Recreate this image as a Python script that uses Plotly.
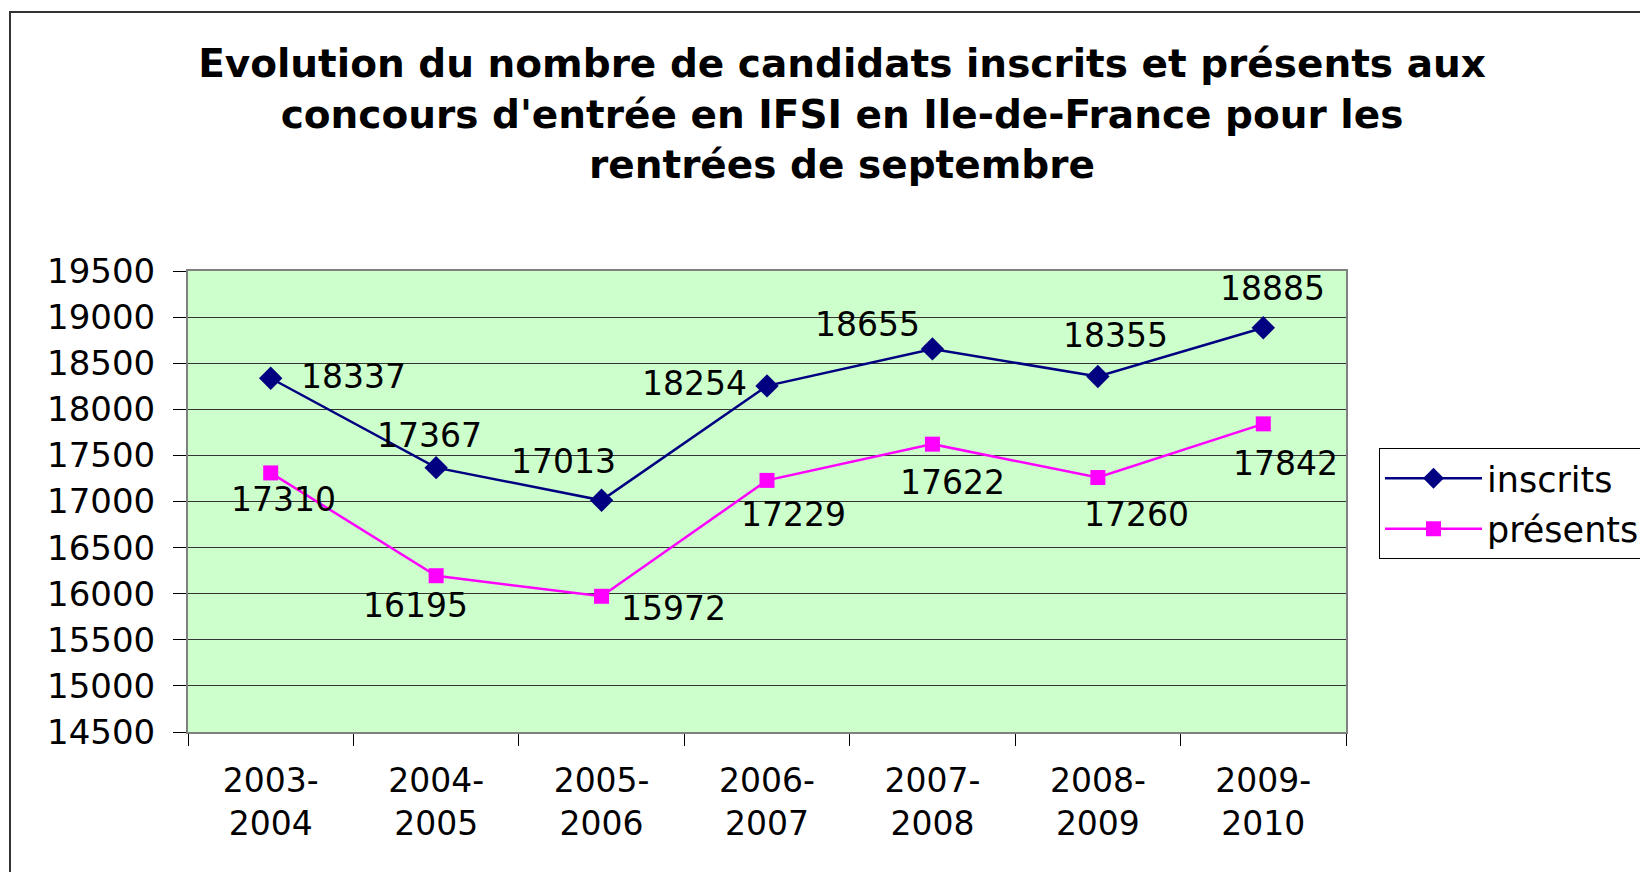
import plotly.graph_objects as go

categories = ["2003-<br>2004", "2004-<br>2005", "2005-<br>2006", "2006-<br>2007",
              "2007-<br>2008", "2008-<br>2009", "2009-<br>2010"]
inscrits = [18337, 17367, 17013, 18254, 18655, 18355, 18885]
presents = [17310, 16195, 15972, 17229, 17622, 17260, 17842]

# label offsets (pixels) for data labels
inscrits_shift = [(83, 2), (-7, 32), (-38, 39), (-73, 2), (-65, 24), (18, 41), (9, 39)]
presents_shift = [(13, -27), (-21, -30), (72, -12), (26, -34), (20, -38), (39, -37), (22, -40)]

FONT = "DejaVu Sans"
W, H = 1640, 864  # page body has an 8px margin

fig = go.Figure()
fig.add_trace(go.Scatter(
    x=categories, y=inscrits, name="inscrits", mode="lines+markers",
    legendgroup="a",
    line=dict(color="#000080", width=2.5),
    marker=dict(symbol="diamond", size=18, color="#000080"),
))
fig.add_trace(go.Scatter(
    x=categories, y=presents, name="présents", mode="lines+markers",
    legendgroup="b",
    line=dict(color="#FF00FF", width=2.5),
    marker=dict(symbol="square", size=15, color="#FF00FF"),
))

annotations = []
for vals, shifts in ((inscrits, inscrits_shift), (presents, presents_shift)):
    for c, v, (dx, dy) in zip(categories, vals, shifts):
        annotations.append(dict(
            x=c, y=v, xref="x", yref="y", text=str(v), showarrow=False,
            xshift=dx, yshift=dy, font=dict(family=FONT, size=33, color="black"),
        ))

fig.update_layout(
    width=W, height=H,
    margin=dict(l=180, r=302, t=263, b=140),
    paper_bgcolor="white",
    plot_bgcolor="#CCFFCC",
    title=dict(
        text="<b>Evolution du nombre de candidats inscrits et présents aux<br>"
             "concours d'entrée en IFSI en Ile-de-France pour les<br>"
             "rentrées de septembre</b>",
        x=834 / W, xanchor="center", xref="container",
        y=1 - 69 / H, yanchor="middle", yref="container",
        font=dict(family=FONT, size=39, color="black"),
    ),
    showlegend=True,
    legend=dict(
        xref="container", yref="container",
        x=1371 / W, y=1 - 440 / H, xanchor="left", yanchor="top",
        bgcolor="white", bordercolor="black", borderwidth=1,
        font=dict(family=FONT, size=35, color="black"),
        itemwidth=97, tracegroupgap=2,
    ),
    annotations=annotations,
    shapes=[dict(
        type="rect", xref="paper", yref="paper",
        x0=(10 - 188) / 1158, x1=(1700 - 188) / 1158,
        y0=(732 - 900) / 461, y1=(732 - 12) / 461,
        line=dict(color="#333333", width=2), fillcolor="rgba(0,0,0,0)",
        layer="below",
    )],
)

fig.update_xaxes(
    type="category", tickson="boundaries", range=[-0.5, 6.5],
    ticks="outside", ticklen=12, tickcolor="black", tickwidth=1,
    showgrid=False, showline=True, linecolor="#808080", linewidth=2, mirror=True,
    tickfont=dict(family=FONT, size=33, color="black"),
    ticklabelstandoff=18,
)
fig.update_yaxes(
    range=[14500, 19500], dtick=500, tick0=14500, tickformat="d",
    ticks="outside", ticklen=13, tickcolor="black", tickwidth=1,
    showgrid=True, gridcolor="#333333", gridwidth=1, zeroline=False,
    showline=True, linecolor="#808080", linewidth=2, mirror=True,
    tickfont=dict(family=FONT, size=34, color="black"),
    ticklabelstandoff=11,
)

fig.write_html("out.html")
